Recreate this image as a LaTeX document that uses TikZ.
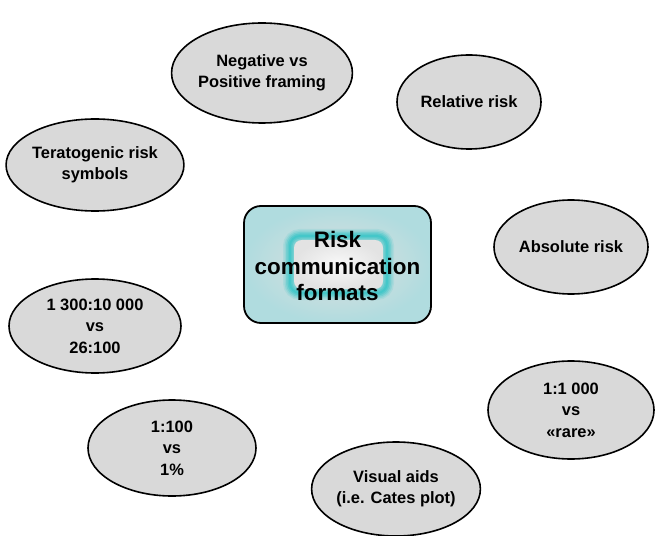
\documentclass[tikz,border=0pt]{standalone}
\usepackage{fontspec}
\setmainfont{Liberation Sans}
\usetikzlibrary{shapes.geometric}
\definecolor{ovalgray}{RGB}{217,217,217}
\definecolor{boxteal}{RGB}{176,220,223}
\definecolor{glowcyan}{RGB}{56,198,200}
\tikzset{
  oval/.style={ellipse, draw, line width=1.6bp, fill=ovalgray, inner sep=0pt,
    align=center, font=\fontsize{16.5}{21.5}\selectfont\bfseries},
}

\begin{document}
\begin{tikzpicture}[x=1bp,y=-1bp]
			%%%%% START %%%%%
			\useasboundingbox (0,0) rectangle (657,536);
			
			% centre box
			\shade[rounded corners=17bp, inner color=gray!25, outer color=boxteal]
			  (244,206) rectangle (431,323);
			\foreach \w/\o in {14/0.15,11/0.22,8/0.32,5/0.45,2/0.6}
			  \draw[glowcyan, line width=\w bp, opacity=\o, rounded corners=10bp] (290,236) rectangle (387,293);
			\shade[rounded corners=8bp, inner color=white!95!gray, outer color=gray!22] (294,240) rectangle (383,289);
			\draw[line width=1.8bp, rounded corners=17bp] (244,206) rectangle (431,323);
			\node[align=center, font=\fontsize{22.5}{27}\selectfont\bfseries] (core) at (337.5,266) {Risk\\communication\\formats};
			
			% ovals
			\node[oval, minimum width=170bp, minimum height=100bp] (framing) at (262,73) {Negative vs\\Positive framing};
			\node[oval, minimum width=144bp, minimum height=94bp] (relrisk) at (469,102) {Relative risk};
			\node[oval, minimum width=168bp, minimum height=92bp] (symbols) at (95,165) {Teratogenic risk\\symbols};
			\node[oval, minimum width=154bp, minimum height=94bp] (absrisk) at (571,247) {Absolute risk};
			\node[oval, minimum width=172bp, minimum height=94bp] (freq) at (95,326) {1 300:10 000\\vs\\26:100};
			\node[oval, minimum width=166bp, minimum height=98bp] (verbal) at (571,410) {1:1 000\\vs\\«rare»};
			\node[oval, minimum width=168bp, minimum height=96bp] (percent) at (172,448) {1:100\\vs\\1\%};
			\node[oval, minimum width=168bp, minimum height=94bp] (visual) at (396,489) {Visual aids\\(i.e. Cates plot)};
			
			%%%%% END %%%%%
\end{tikzpicture}
\end{document}
